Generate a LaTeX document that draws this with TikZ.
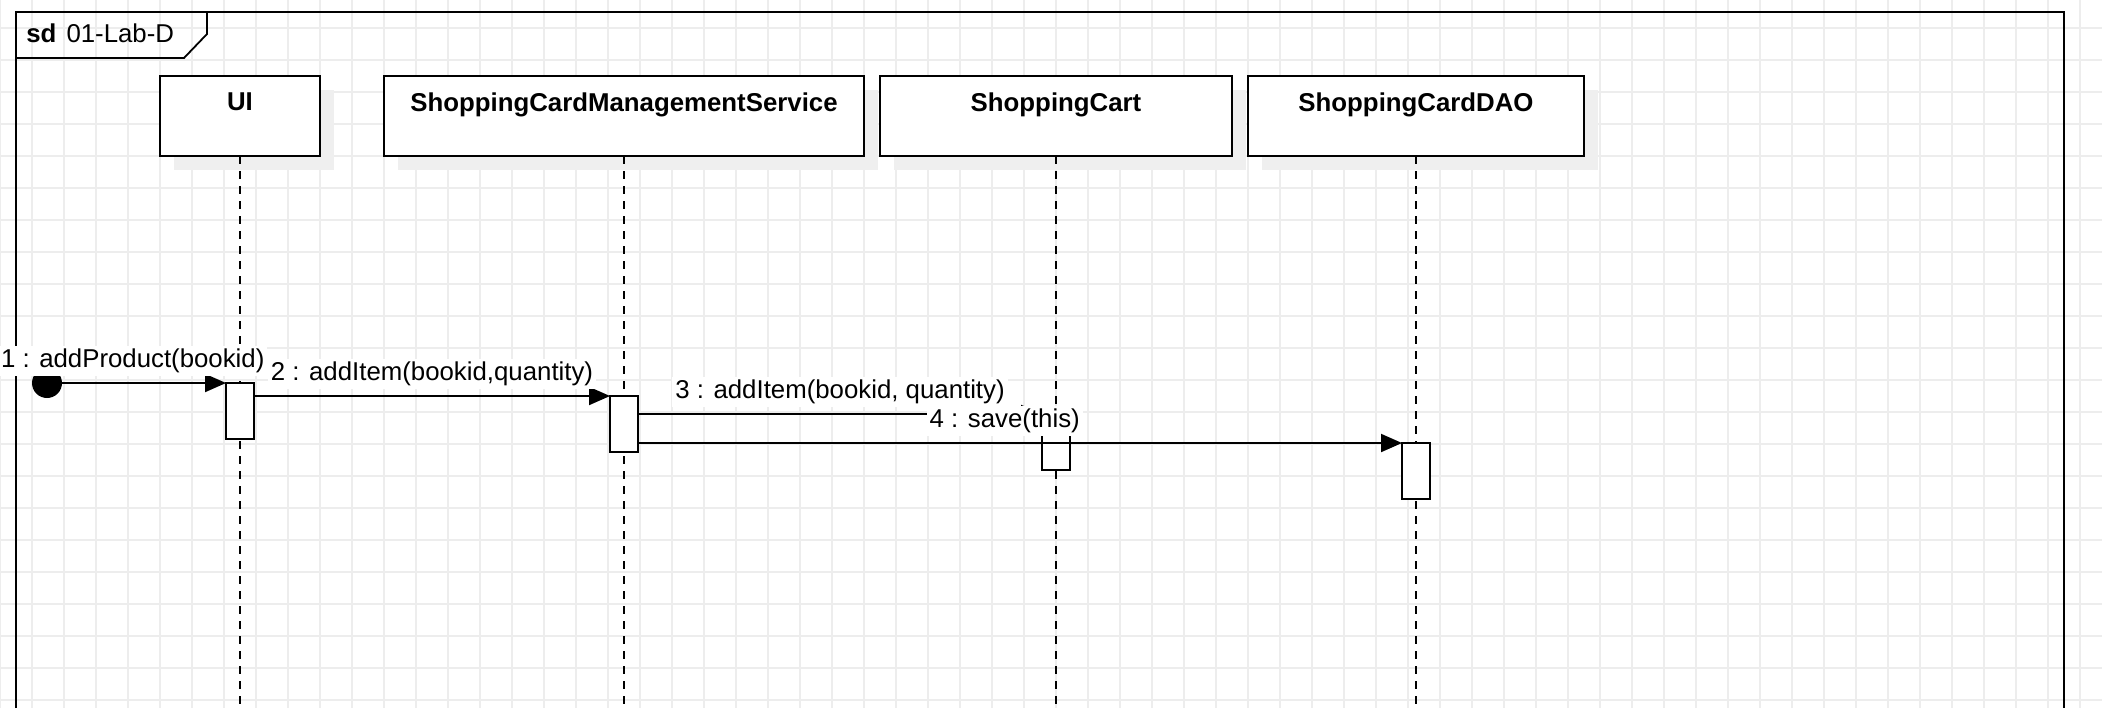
\documentclass[tikz,border=0pt]{standalone}
\usepackage{fontspec}
\setmainfont{Liberation Sans}
\usetikzlibrary{
    arrows.meta,
    shadows,
    positioning
}
\definecolor{gridgray}{HTML}{EDEDED}
\definecolor{shadowgray}{HTML}{EFEFEF}

\begin{document}
\begin{tikzpicture}[x=0.5pt, y=-0.5pt,
                                every node/.style={font=\fontsize{12.9}{15}\selectfont},
                                gridline/.style={draw=gridgray, line width=0.7pt},
                                frameline/.style={draw, line width=0.9pt},
                                lifebox/.style={draw, line width=1pt, fill=white, rectangle, inner sep=0pt, outer sep=0pt, minimum height=40pt,
                                    drop shadow={shadow xshift=7pt, shadow yshift=-7pt, fill=shadowgray, opacity=1}},
                                boxtitle/.style={anchor=north, inner sep=0pt, yshift=-8pt, font=\fontsize{12.9}{15}\selectfont\bfseries},
                                lifeline/.style={line width=0.8pt, dash pattern=on 4pt off 3.5pt},
                                act/.style={draw, line width=1pt, fill=white, rectangle, inner sep=0pt, outer sep=0pt, minimum width=14pt, minimum height=28pt},
                                found/.style={circle, fill=black, inner sep=0pt, minimum size=15pt},
                                msg/.style={line width=1pt, -{Triangle[length=10.5pt, width=9pt]}},
                                msglabel/.style={fill=white, inner sep=1.5pt, above=3pt}]
                                \useasboundingbox (0,0) rectangle (2102,708);
                                \foreach \gx in {0,32,...,2080} \draw[gridline] (\gx,0) -- (\gx,708);
                                \foreach \gy in {28,60,...,700} \draw[gridline] (0,\gy) -- (2102,\gy);

                                \draw[frameline] (16,708) -- (16,12) -- (2064,12) -- (2064,708);
                                \draw[frameline] (16,58) -- (184,58) -- (207,34) -- (207,12);
                                \node[anchor=base west, inner sep=0pt] (title) at (26,42) {\textbf{sd}\hspace{5pt}01-Lab-D};

                                \node[lifebox, minimum width=80pt, label={[boxtitle]north:UI}] (ui) at (240,116) {};
                                \node[lifebox, minimum width=240pt, label={[boxtitle]north:ShoppingCardManagementService}] (scms) at (624,116) {};
                                \node[lifebox, minimum width=176pt, label={[boxtitle]north:ShoppingCart}] (cart) at (1056,116) {};
                                \node[lifebox, minimum width=168pt, label={[boxtitle]north:ShoppingCardDAO}] (dao) at (1416,116) {};
                                \coordinate (bottom) at (0,708);

                                \draw[lifeline] (ui.south) -- (ui.south |- bottom);
                                \draw[lifeline] (scms.south) -- (scms.south |- bottom);
                                \draw[lifeline] (cart.south) -- (cart.south |- bottom);
                                \draw[lifeline] (dao.south) -- (dao.south |- bottom);

                                \node[act] (uiact) at (240,411) {};
                                \node[act] (scmsact) at (624,424) {};
                                \node[act] (cartact) at (1056,442) {};
                                \node[act] (daoact) at (1416,471) {};
                                \node[found] (start) at (47,383) {};

                                \draw
                                (start) edge[msg] node[msglabel, pos=0.43]{1 : addProduct(bookid)} (uiact.north west)
                                (uiact.east |- scmsact.north) edge[msg] node[msglabel]{2 : addItem(bookid,quantity)} (scmsact.north west)
                                (scmsact.east |- cartact.north) edge[msg] node[msglabel]{3 : addItem(bookid, quantity)} (cartact.north west)
                                (scmsact.east |- daoact.north) edge[msg] node[msglabel, pos=0.48]{4 : save(this)} (daoact.north west);
                            \end{tikzpicture}
\end{document}
